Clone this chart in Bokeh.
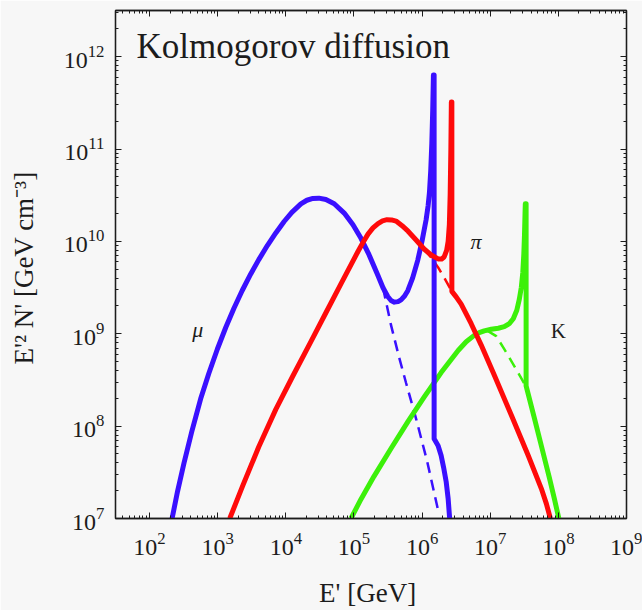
from bokeh.plotting import figure
from bokeh.models import LogAxis, FixedTicker, Range1d, CustomJSTickFormatter
from bokeh.core.properties import value
from bokeh.embed import file_html
from bokeh.resources import INLINE

# ---- spectra: E' [GeV] and E'^2 N' [GeV cm^-3] ----
# muons (solid) and the smooth continuation without the pile-up (dashed)
mu_E = [214, 258, 319, 415, 562, 738, 990, 1312, 1738, 2291, 3055, 4009, 5383, 7125,
        9441, 12250, 16630, 20370, 24950, 30550, 38730, 51290, 71940, 96700, 126800,
        166300, 223300, 266900, 313200, 349900, 391500, 443600, 491000, 553200,
        616300, 724800, 864600, 1.000e6, 1.146e6, 1.225e6, 1.281e6, 1.339e6, 1.389e6,
        1.432e6, 1.466e6, 1.501e6, 1.501e6, 1.719e6, 1.903e6, 2.072e6, 2.254e6,
        2.411e6, 2.537e6]
mu_N = [1.0e7, 1.98e7, 3.94e7, 8.64e7, 1.975e8, 3.69e8, 6.84e8, 1.17e9, 1.90e9, 2.94e9,
        4.44e9, 6.35e9, 9.08e9, 1.235e10, 1.643e10, 2.065e10, 2.55e10, 2.79e10,
        2.92e10, 2.94e10, 2.84e10, 2.56e10, 2.025e10, 1.514e10, 1.08e10, 7.19e9,
        4.33e9, 3.15e9, 2.53e9, 2.29e9, 2.20e9, 2.23e9, 2.33e9, 2.56e9, 2.93e9,
        4.00e9, 6.28e9, 1.015e10, 1.72e10, 2.43e10, 3.36e10, 5.82e10, 1.15e11,
        2.65e11, 6.32e11, 6.32e11, 7.29e7, 6.13e7, 4.82e7, 3.55e7, 2.51e7, 1.64e7,
        1.0e7]
mu_smooth_E = [266900, 349900, 459000, 5.82e5, 8.17e5, 1.19e6, 1.72e6]
mu_smooth_N = [3.15e9, 1.24e9, 5.59e8, 2.93e8, 1.20e8, 4.12e7, 1.22e7]

# pions
pi_E = [1502, 2333, 4009, 7125, 12680, 23330, 38730, 64400, 114500, 135600, 160700,
        190200, 225400, 262500, 305500, 356000, 414700, 508200, 622300, 816300,
        1.07e6, 1.356e6, 1.719e6, 1.936e6, 2.106e6, 2.292e6, 2.411e6, 2.512e6,
        2.582e6, 2.643e6, 2.688e6, 2.734e6, 2.734e6, 3.162e6, 3.746e6, 5.255e6,
        7.372e6, 1.145e7, 2.036e7, 3.622e7, 5.623e7, 6.66e7, 7.63e7]
pi_N = [1.0e7, 2.27e7, 5.98e7, 1.52e8, 3.49e8, 8.22e8, 1.69e9, 3.47e9, 7.78e9, 9.73e9,
        1.20e10, 1.40e10, 1.56e10, 1.67e10, 1.72e10, 1.71e10, 1.66e10, 1.48e10,
        1.29e10, 1.035e10, 8.28e9, 7.13e9, 6.46e9, 6.46e9, 6.79e9, 7.98e9, 9.97e9,
        1.52e10, 3.21e10, 9.80e10, 3.23e11, 3.23e11, 2.88e9, 2.51e9, 2.09e9,
        1.285e9, 7.54e8, 3.58e8, 1.32e8, 4.78e7, 2.11e7, 1.45e7, 1.0e7]
pi_smooth_E = [1.07e6, 1.356e6, 1.719e6, 2.18e6, 2.734e6]
pi_smooth_N = [8.28e9, 6.70e9, 5.22e9, 3.88e9, 2.88e9]

# kaons
K_E = [90300, 126800, 196800, 349900, 622300, 1.07e6, 1.903e6, 3.382e6, 4.437e6,
       5.818e6, 6.89e6, 8.16e6, 1.035e7, 1.312e7, 1.607e7, 1.902e7, 2.178e7, 2.454e7,
       2.67e7, 2.858e7, 3.006e7, 3.109e7, 3.184e7, 3.239e7, 3.272e7, 3.362e7,
       3.362e7, 4.437e7, 5.818e7, 7.372e7, 8.73e7, 1.017e8]
K_N = [1.0e7, 1.62e7, 2.86e7, 5.73e7, 1.127e8, 2.06e8, 3.80e8, 6.59e8, 8.20e8, 9.61e8,
       1.028e9, 1.075e9, 1.12e9, 1.149e9, 1.193e9, 1.285e9, 1.455e9, 1.797e9, 2.36e9,
       3.18e9, 4.62e9, 7.22e9, 1.187e10, 1.95e10, 2.56e10, 2.56e10, 2.72e8, 1.229e8,
       5.55e7, 2.77e7, 1.64e7, 1.0e7]
K_smooth_E = [9.04e6, 1.225e7, 1.607e7, 2.254e7, 3.06e7, 3.362e7]
K_smooth_N = [1.08e9, 9.42e8, 6.82e8, 4.47e8, 3.01e8, 2.72e8]

# axis ticks
x_major = [1e2, 1e3, 1e4, 1e5, 1e6, 1e7, 1e8, 1e9]
x_minor = [m * 10.0 ** d for d in range(1, 9) for m in range(2, 10)]
y_major = [1e7, 1e8, 1e9, 1e10, 1e11, 1e12]
y_minor = [m * 10.0 ** d for d in range(7, 13) for m in range(2, 10)]

BLUE = "#3a10ff"
RED = "#ff0a0a"
GREEN = "#3cf00a"
INK = "#1c1c1c"
BG = "#f7f7f7"
SERIF = "Liberation Serif"

p = figure(width=642, height=610, x_axis_type="log", y_axis_type="log",
           x_range=Range1d(10 ** 1.5, 1e9), y_range=Range1d(1e7, 10 ** 12.5),
           output_backend="svg", toolbar_location=None,
           min_border_left=115, min_border_right=16, min_border_top=10,
           min_border_bottom=90)
p.background_fill_color = BG
p.border_fill_color = BG
p.outline_line_color = INK
p.outline_line_width = 1.3
p.grid.visible = False


def style_axis(ax, ticks, minor):
    ax.ticker = FixedTicker(ticks=ticks, minor_ticks=minor)
    ax.axis_line_color = INK
    ax.axis_line_width = 1.3
    ax.major_tick_in = 6
    ax.major_tick_out = 0
    ax.minor_tick_in = 3
    ax.minor_tick_out = 0
    ax.major_tick_line_color = INK
    ax.minor_tick_line_color = INK
    ax.major_label_text_font = SERIF
    ax.major_label_text_font_size = "24px"
    ax.major_label_text_color = INK
    ax.axis_label_text_font = SERIF
    ax.axis_label_text_font_size = "27px"
    ax.axis_label_text_font_style = "normal"
    ax.axis_label_text_color = INK


xa = p.xaxis[0]
ya = p.yaxis[0]
style_axis(xa, x_major, x_minor)
style_axis(ya, y_major, y_minor)
xa.axis_label = "E'  [GeV]"
xa.major_label_standoff = 14
xa.axis_label_standoff = 20
ya.axis_label = "E'\u00b2 N'  [GeV cm\u207b\u00b3]"
ya.major_label_standoff = 11
ya.axis_label_standoff = 22

blank = CustomJSTickFormatter(code="return ''")
top = LogAxis(formatter=blank)
right = LogAxis(formatter=blank)
style_axis(top, x_major, x_minor)
style_axis(right, y_major, y_minor)
for ax in (top, right):
    ax.major_label_standoff = 0
    ax.major_label_text_font_size = "1px"
p.add_layout(top, "above")
p.add_layout(right, "right")

# dashed smooth continuations
p.line(mu_smooth_E, mu_smooth_N, line_color=BLUE, line_width=2.5, line_dash="11 7")
p.line(pi_smooth_E, pi_smooth_N, line_color=RED, line_width=2.5, line_dash="11 7")
p.line(K_smooth_E, K_smooth_N, line_color=GREEN, line_width=2.5, line_dash="11 7")

# full spectra
p.line(K_E, K_N, line_color=GREEN, line_width=5, line_join="round")
p.line(mu_E, mu_N, line_color=BLUE, line_width=5, line_join="round")
p.line(pi_E, pi_N, line_color=RED, line_width=5, line_join="round")

# species labels
p.text(x=[508], y=[1.12e9], text=["\u03bc"], text_font=value(SERIF),
       text_font_style="italic", text_font_size="22px", text_color=INK,
       text_align="center", text_baseline="middle")
p.text(x=[6.2e6], y=[1.0e10], text=["\u03c0"], text_font=value(SERIF),
       text_font_style="italic", text_font_size="22px", text_color=INK,
       text_align="center", text_baseline="middle")
p.text(x=[1.0e8], y=[1.07e9], text=["K"], text_font=value(SERIF),
       text_font_size="21px", text_color=INK,
       text_align="center", text_baseline="middle")

# panel title
p.text(x=[64.4], y=[1.28e12], text=["Kolmogorov diffusion"], text_font=value(SERIF),
       text_font_size="35px", text_color=INK, text_align="left",
       text_baseline="middle")

open("out.html", "w").write(file_html(p, INLINE))
